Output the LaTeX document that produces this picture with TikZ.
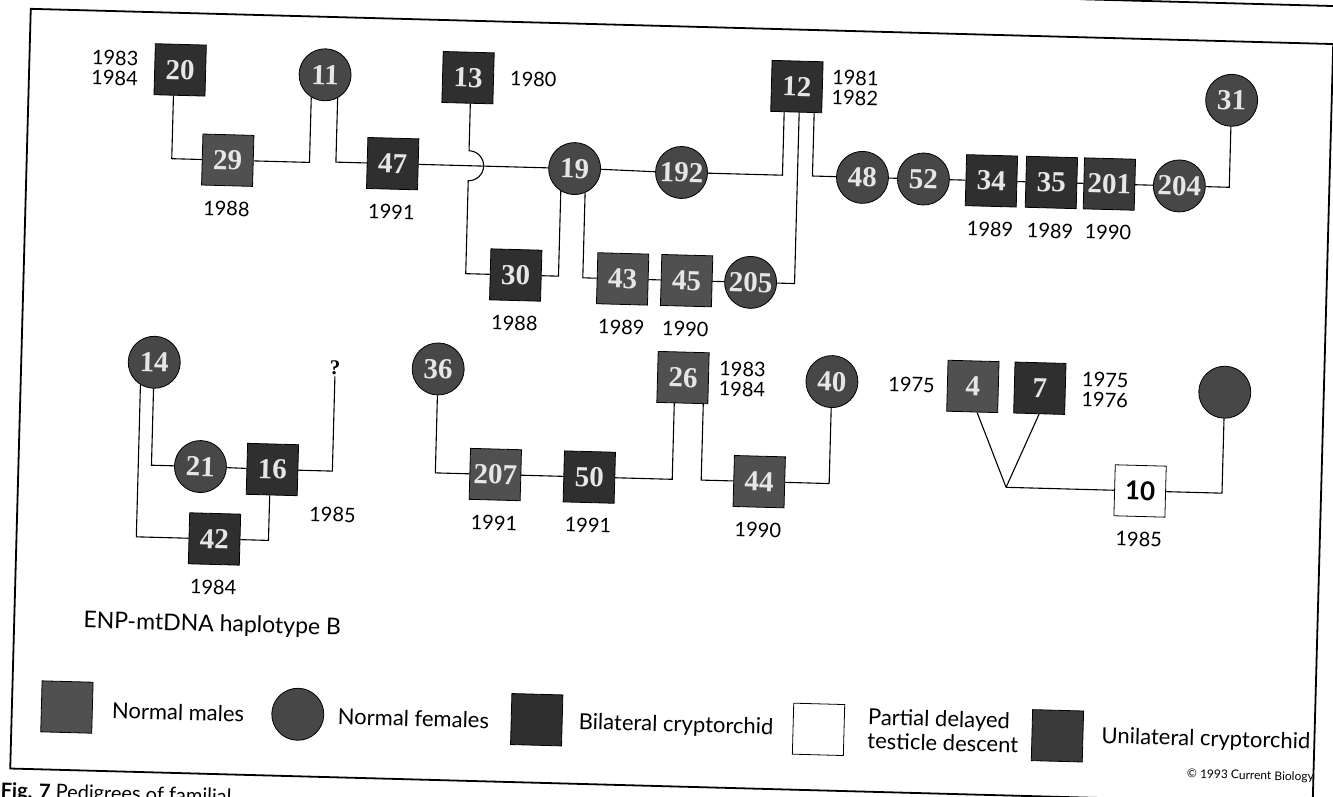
\documentclass[tikz,border=0pt]{standalone}
\usepackage{fontspec}
\setmainfont{Lato}
\newfontfamily\numserif{Liberation Serif}
\usepackage{xcolor}
\definecolor{malefill}{HTML}{505050}
\definecolor{femfill}{HTML}{474747}
\definecolor{bilfill}{HTML}{2F2F2F}
\definecolor{unifill}{HTML}{3A3A3A}
\definecolor{numtext}{HTML}{E6E6E6}
\usetikzlibrary{positioning}
\newcommand{\numfont}{\numserif\bfseries\fontsize{29}{29}\selectfont}
\newcommand{\tenfont}{\bfseries\fontsize{26}{26}\selectfont}
\newcommand{\yrfont}{\fontsize{20}{20}\selectfont}
\newcommand{\legfont}{\fontsize{22}{24}\selectfont}

\begin{document}
\begin{tikzpicture}[x=1pt,y=-1pt,
  male/.style={rectangle,draw=black,line width=0.8pt,fill=malefill,minimum size=51pt,inner sep=0pt,font=\numfont,text=numtext},
  bilat/.style={male,fill=bilfill},
  unilat/.style={male,fill=unifill},
  partial/.style={male,fill=white,font=\tenfont,text=black},
  female/.style={circle,draw=black,line width=0.8pt,fill=femfill,minimum size=52pt,inner sep=0pt,font=\numfont,text=numtext},
  yr/.style={font=\yrfont,inner sep=0pt,align=left},
  leg/.style={font=\legfont,inner sep=0pt,align=left,anchor=west},
  link/.style={line width=1.1pt},
  frame/.style={line width=1.8pt}]
\useasboundingbox (0,0) rectangle (1333,796);
\begin{scope}[rotate=-1.55,transform shape]
  % frame and the edge of the figure above
  \draw[frame] (31,8) rectangle (1334,768);
  \draw[frame] (1080,-30) -- (1400,-30);

  % family 1
  \node[bilat] (n20) at (182,65) {20};
  \node[male] (n29) at (232,154) {29};
  \node[female] (n11) at (327,66) {11};
  \node[bilat] (n47) at (397,153) {47};
  \node[bilat] (n13) at (470,65) {13};
  \node[female] (n19) at (579,153) {19};
  \node[female] (n192) at (686,154) {192};
  \node[bilat] (n12) at (799,65) {12};
  \node[female] (n48) at (867,154) {48};
  \node[female] (n52) at (928,154) {52};
  \node[bilat] (n34) at (996,154) {34};
  \node[bilat] (n35) at (1056,154) {35};
  \node[unilat] (n201) at (1114,154) {201};
  \node[female] (n204) at (1184,154) {204};
  \node[female] (n31) at (1234,67) {31};
  \node[bilat] (n30) at (523,261) {30};
  \node[male] (n43) at (630,262) {43};
  \node[male] (n45) at (694,262) {45};
  \node[female] (n205) at (758,262) {205};

  \node[yr,left=16pt of n20] (y20) {1983\\1984};
  \node[yr,below=15pt of n29] (y29) {1988};
  \node[yr,below=15pt of n47] (y47) {1991};
  \node[yr,right=16pt of n13] (y13) {1980};
  \node[yr,right=9pt of n12] (y12) {1981\\1982};
  \node[yr,below=15pt of n30] (y30) {1988};
  \node[yr,below=15pt of n43] (y43) {1989};
  \node[yr,below=15pt of n45] (y45) {1990};
  \node[yr,below=15pt of n34] (y34) {1989};
  \node[yr,below=15pt of n35] (y35) {1989};
  \node[yr,below=15pt of n201] (y201) {1990};

  \draw[link] ([xshift=-6pt]n20.south) |- (n29.west);
  \draw[link] (n11.240) |- (n29.east);
  \draw[link] (n11.300) |- (n47.west);
  \draw[link] (n47.east) -- (n19.west);
  \draw[link] ([xshift=3pt]n13.south) -- ([xshift=3pt]n13.south |- 0,138)
    arc[start angle=90,end angle=-90,radius=15pt] -- ([xshift=3pt]n13.south |- n30.west) -- (n30.west);
  \draw[link] (n19.east) -- (n192.west);
  \draw[link] (n19.240) |- (n30.east);
  \draw[link] (n19.295) |- (n43.west);
  \draw[link] (n192.east) -| ([xshift=-12pt]n12.south);
  \draw[link] (n205.east) -| ([xshift=3pt]n12.south);
  \draw[link] ([xshift=18pt]n12.south) |- (n48.west);
  \foreach \a/\b in {n48/n52,n52/n34,n34/n35,n35/n201,n201/n204,n43/n45,n45/n205}
    \draw[link] (\a) -- (\b);
  \draw[link] (n204.east) -| (n31.south);

  % family 2
  \node[female] (n14) at (164,358) {14};
  \node[female] (n21) at (213,461) {21};
  \node[bilat] (n16) at (285,462) {16};
  \node[bilat] (n42) at (229,533) {42};
  \node[inner sep=1pt,font=\numserif\bfseries\fontsize{21}{21}\selectfont] (q) at (345,359) {?};
  \node[yr,right=12pt of n16.south east,anchor=north west,yshift=-10pt] (y16) {1985};
  \node[yr,below=15pt of n42] (y42) {1984};
  \node[font=\fontsize{23}{23}\selectfont,inner sep=0pt] (hap) at (229,619) {ENP-mtDNA haplotype B};

  \draw[link] (n14.240) |- (n42.west);
  \draw[link] (n14.south) |- (n21.west);
  \draw[link] (n21) -- (n16);
  \draw[link] (n16.east) -| (q.south);
  \draw[link] ([xshift=-2pt]n16.south) |- (n42.east);

  % family 3
  \node[female] (n36) at (448,357) {36};
  \node[male] (n207) at (508,461) {207};
  \node[bilat] (n50) at (602,461) {50};
  \node[male] (n26) at (693,359) {26};
  \node[female] (n40) at (842,359) {40};
  \node[male] (n44) at (772,461) {44};

  \node[yr,below=15pt of n207] (y207) {1991};
  \node[yr,below=15pt of n50] (y50) {1991};
  \node[yr,right=10pt of n26] (y26) {1983\\1984};
  \node[yr,below=15pt of n44] (y44) {1990};

  \draw[link] (n36.south) |- (n207.west);
  \draw[link] (n207) -- (n50);
  \draw[link] (n50.east) -| ([xshift=-8pt]n26.south);
  \draw[link] ([xshift=21pt]n26.south) |- (n44.west);
  \draw[link] (n44.east) -| (n40.south);

  % family 4
  \node[male] (n4) at (983,360) {4};
  \node[bilat] (n7) at (1050,360) {7};
  \node[female] (nf) at (1235,359) {};
  \node[partial] (n10) at (1153,460) {10};
  \coordinate (jn) at (1019,460);

  \node[yr,left=12pt of n4] (y4) {1975};
  \node[yr,right=16pt of n7] (y7) {1975\\1976};
  \node[yr,below=15pt of n10] (y10) {1985};

  \draw[link] ([xshift=5pt]n4.south) -- (jn);
  \draw[link] (n7.south) -- (jn);
  \draw[link] (jn) -- (n10.west);
  \draw[link] (n10.east) -| (nf.south);

  % key
  \node[male] (km) at (86,705) {};
  \node[leg] (kmt) at (131,707) {Normal males};
  \node[female] (kf) at (317,706) {};
  \node[leg] (kft) at (357,707) {Normal females};
  \node[bilat] (kb) at (556,705) {};
  \node[leg] (kbt) at (598,707) {Bilateral cryptorchid};
  \node[partial] (kp) at (838,707) {};
  \node[leg] (kpt) at (887,705) {Partial delayed\\testicle descent};
  \node[unilat] (ku) at (1077,707) {};
  \node[leg] (kut) at (1121,707) {Unilateral cryptorchid};

  \node[font=\fontsize{12}{12}\selectfont,inner sep=0pt] (copy) at (1271,742) {\textcopyright\ 1993 Current Biology};
  \node[anchor=north west,inner sep=0pt,font=\fontsize{20}{20}\selectfont] (cap) at (22,782) {\textbf{Fig. 7} Pedigrees of familial};
\end{scope}
\end{tikzpicture}
\end{document}
